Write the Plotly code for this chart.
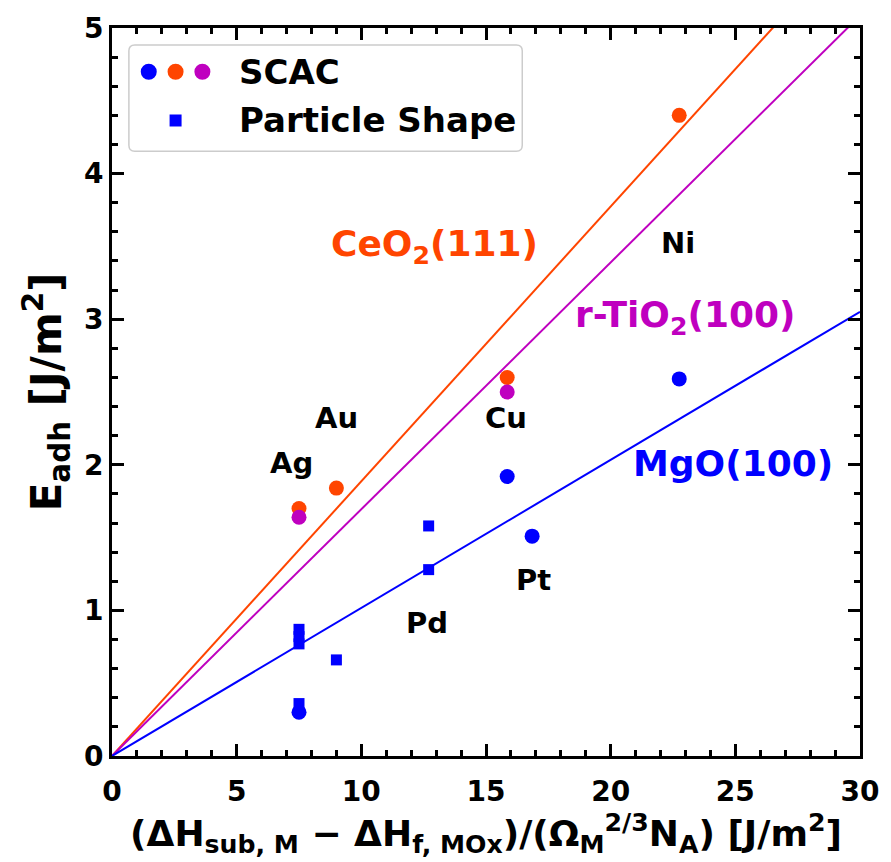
import plotly.graph_objects as go

# ---- data ----
mgo_scac_x = [7.5, 15.85, 16.85, 22.75]
mgo_scac_y = [0.30, 1.92, 1.51, 2.59]
ceo2_scac_x = [7.5, 9.0, 15.85, 22.75]
ceo2_scac_y = [1.70, 1.84, 2.60, 4.40]
tio2_scac_x = [7.5, 15.85]
tio2_scac_y = [1.64, 2.50]
shape_x = [7.5, 7.5, 7.5, 7.5, 9.0, 12.7, 12.7]
shape_y = [0.87, 0.82, 0.77, 0.36, 0.66, 1.58, 1.28]

fit_x = [0, 30]
slope_ceo2 = 0.1887
slope_tio2 = 0.1695
slope_mgo = 0.1017

metal_names = ["Ag", "Au", "Cu", "Ni", "Pd", "Pt"]
metal_x = [7.2, 9.0, 15.8, 22.7, 12.65, 16.9]
metal_y = [2.01, 2.32, 2.32, 3.52, 0.915, 1.21]

support_names = ["CeO<sub>2</sub>(111)", "r-TiO<sub>2</sub>(100)", "MgO(100)"]
support_x = [12.95, 23.0, 24.9]
support_y = [3.50, 3.01, 2.01]

x_ticks = [0, 5, 10, 15, 20, 25, 30]
y_ticks = [0, 1, 2, 3, 4, 5]

BLUE = "#0000ff"
ORANGE = "#ff4500"
MAGENTA = "#bf00bf"
FONT = "DejaVu Sans"

fig = go.Figure()

fig.add_trace(go.Scatter(x=fit_x, y=[slope_ceo2 * v for v in fit_x], mode="lines",
                         line=dict(color=ORANGE, width=2), showlegend=False))
fig.add_trace(go.Scatter(x=fit_x, y=[slope_tio2 * v for v in fit_x], mode="lines",
                         line=dict(color=MAGENTA, width=2), showlegend=False))
fig.add_trace(go.Scatter(x=fit_x, y=[slope_mgo * v for v in fit_x], mode="lines",
                         line=dict(color=BLUE, width=2), showlegend=False))

fig.add_trace(go.Scatter(x=shape_x, y=shape_y, mode="markers",
                         marker=dict(symbol="square", size=11, color=BLUE), showlegend=False))
fig.add_trace(go.Scatter(x=mgo_scac_x, y=mgo_scac_y, mode="markers",
                         marker=dict(symbol="circle", size=15, color=BLUE), showlegend=False))
fig.add_trace(go.Scatter(x=ceo2_scac_x, y=ceo2_scac_y, mode="markers",
                         marker=dict(symbol="circle", size=15, color=ORANGE), showlegend=False))
fig.add_trace(go.Scatter(x=tio2_scac_x, y=tio2_scac_y, mode="markers",
                         marker=dict(symbol="circle", size=15, color=MAGENTA), showlegend=False))

annotations = []
for n, x, y in zip(metal_names, metal_x, metal_y):
    annotations.append(dict(x=x, y=y, text="<b>%s</b>" % n, showarrow=False,
                            font=dict(family=FONT, size=29, color="black")))
for n, x, y, c in zip(support_names, support_x, support_y, [ORANGE, MAGENTA, BLUE]):
    annotations.append(dict(x=x, y=y, text="<b>%s</b>" % n, showarrow=False,
                            font=dict(family=FONT, size=36, color=c)))

# legend (drawn manually)
annotations.append(dict(xref="paper", yref="paper", x=0.167, y=0.940, xanchor="left", yanchor="middle",
                        text="<b>SCAC</b>", showarrow=False, font=dict(family=FONT, size=34, color="black")))
annotations.append(dict(xref="paper", yref="paper", x=0.167, y=0.873, xanchor="left", yanchor="middle",
                        text="<b>Particle Shape</b>", showarrow=False, font=dict(family=FONT, size=34, color="black")))

# rounded legend frame
lx0, lx1 = (129 - 112) / 753, (525 - 112) / 753
ly0, ly1 = (756 - 148) / 732, (756 - 41) / 732
rx, ry = 6 / 753, 6 / 732
path = (f"M {lx0+rx} {ly1} L {lx1-rx} {ly1} Q {lx1} {ly1} {lx1} {ly1-ry} "
        f"L {lx1} {ly0+ry} Q {lx1} {ly0} {lx1-rx} {ly0} L {lx0+rx} {ly0} "
        f"Q {lx0} {ly0} {lx0} {ly0+ry} L {lx0} {ly1-ry} Q {lx0} {ly1} {lx0+rx} {ly1} Z")
shapes = [dict(type="path", xref="paper", yref="paper", path=path,
               line=dict(color="#cccccc", width=1.5), fillcolor="rgba(255,255,255,0.8)", layer="above")]
for px, col in zip([149, 176, 203], [BLUE, ORANGE, MAGENTA]):
    xa = (px - 112) / 753
    ya = (756 - 68) / 732
    shapes.append(dict(type="circle", xref="paper", yref="paper", xsizemode="pixel", ysizemode="pixel",
                       xanchor=xa, yanchor=ya, x0=-8, x1=8, y0=-8, y1=8,
                       fillcolor=col, line=dict(width=0), layer="above"))
shapes.append(dict(type="rect", xref="paper", yref="paper", xsizemode="pixel", ysizemode="pixel",
                   xanchor=(176 - 112) / 753, yanchor=(756 - 117) / 732, x0=-6, x1=6, y0=-6, y1=6,
                   fillcolor=BLUE, line=dict(width=0), layer="above"))

axis_common = dict(showline=True, linecolor="black", linewidth=3, mirror="allticks",
                   ticks="inside", ticklen=12, tickwidth=3, tickcolor="black",
                   showgrid=False, zeroline=False,
                   tickfont=dict(family=FONT, size=28, color="black", weight="bold"))

fig.update_xaxes(range=[0, 30], tickvals=x_ticks, ticktext=["<b>%d</b>" % v for v in x_ticks],
                 ticklabelstandoff=8,
                 minor=dict(dtick=1, ticks="inside", ticklen=6, tickwidth=3, tickcolor="black"),
                 title=dict(text="<b>(ΔH<sub>sub, M</sub> − ΔH<sub>f, MOx</sub>)/(Ω<sub>M</sub><sup>2/3</sup>N<sub>A</sub>) [J/m<sup>2</sup>]</b>",
                            font=dict(family=FONT, size=36, color="black"), standoff=4),
                 **axis_common)
fig.update_yaxes(range=[0, 5], tickvals=y_ticks, ticktext=["<b>%d</b>" % v for v in y_ticks],
                 minor=dict(dtick=0.2, ticks="inside", ticklen=6, tickwidth=3, tickcolor="black"),
                 title=dict(text="<b>E<sub>adh</sub> [J/m<sup>2</sup>]</b>",
                            font=dict(family=FONT, size=42, color="black"), standoff=10),
                 **axis_common)

fig.update_layout(width=891, height=862, margin=dict(l=112, r=26, t=24, b=106),
                  plot_bgcolor="white", paper_bgcolor="white",
                  annotations=annotations, shapes=shapes, showlegend=False)

fig.write_html("out.html")
